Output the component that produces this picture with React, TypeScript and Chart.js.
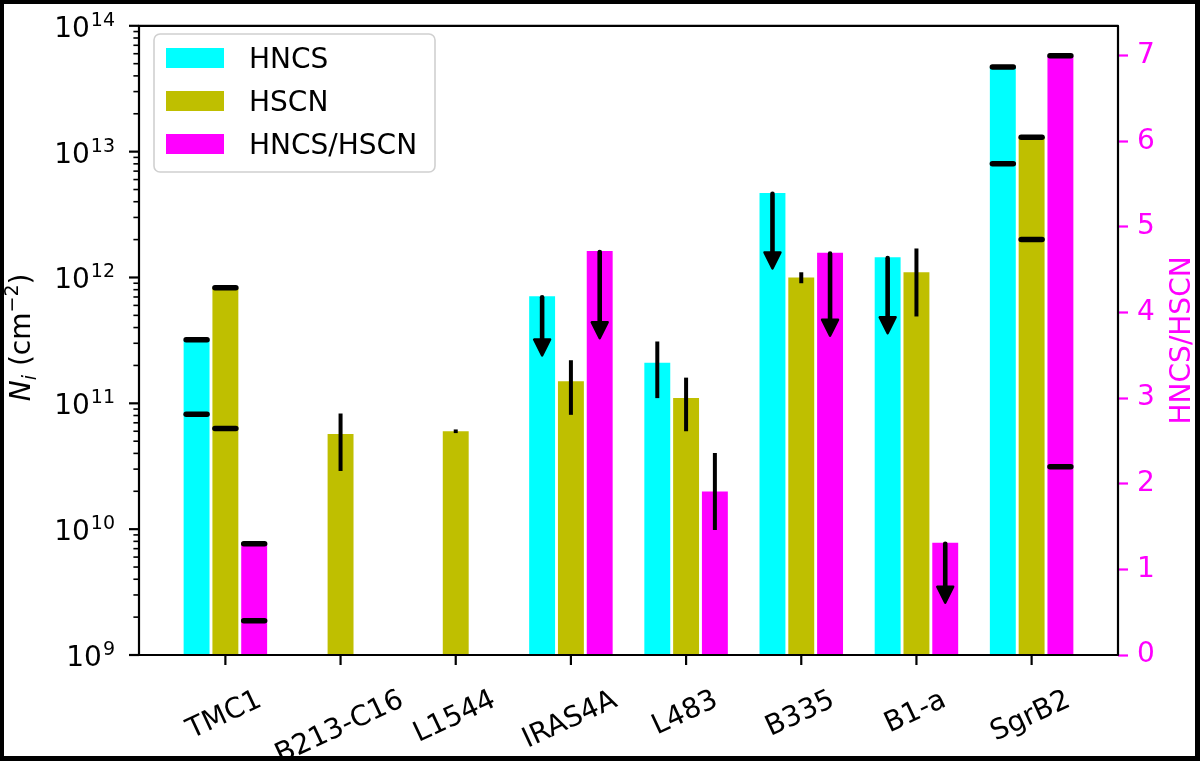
import React, { useEffect, useRef } from 'react';
import { Chart, registerables } from 'chart.js';

Chart.register(...registerables);

// ---------------- data ----------------
const categories = ['TMC1', 'B213-C16', 'L1544', 'IRAS4A', 'L483', 'B335', 'B1-a', 'SgrB2'];

const seriesNames = ['HNCS', 'HSCN', 'HNCS/HSCN'];
const seriesColors = ['#00ffff', '#bfbf00', '#ff00ff'];
const seriesOffsets = [-0.25, 0, 0.25];

// column densities (cm^-2) – left log axis
const hncs = [3.2e11, null, null, 7.1e11, 2.1e11, 4.7e12, 1.45e12, 4.7e13];
const hscn = [8.3e11, 5.7e10, 6.0e10, 1.5e11, 1.1e11, 1.0e12, 1.1e12, 1.3e13];
// ratio – right linear axis
const ratio = [1.3, null, null, 4.72, 1.91, 4.7, 1.31, 7.0];

// uncertainty markers: 'range' = two dashes, 'err' = error bar, 'upper' = upper-limit arrow (hi -> lo)
const hncsKind = ['range', '', '', 'upper', 'err', 'upper', 'upper', 'range'];
const hncsLo = [8.2e10, null, null, 2.4e11, 1.1e11, 1.18e12, 3.6e11, 8.0e12];
const hncsHi = [3.2e11, null, null, 7.1e11, 3.1e11, 4.7e12, 1.45e12, 4.7e13];

const hscnKind = ['range', 'err', 'err', 'err', 'err', 'err', 'err', 'range'];
const hscnLo = [6.3e10, 2.9e10, 5.8e10, 8.1e10, 6.0e10, 9.0e11, 4.9e11, 2.0e12];
const hscnHi = [8.3e11, 8.3e10, 6.2e10, 2.2e11, 1.6e11, 1.1e12, 1.7e12, 1.3e13];

const ratioKind = ['range', '', '', 'upper', 'err', 'upper', 'upper', 'range'];
const ratioLo = [0.4, null, null, 3.7, 1.46, 3.73, 0.61, 2.2];
const ratioHi = [1.3, null, null, 4.72, 2.36, 4.7, 1.31, 7.0];

const leftExponents = [9, 10, 11, 12, 13, 14];
const leftAxisTitle = ['N', 'i', ' (cm', '\u22122', ')'];
const rightAxisTitle = 'HNCS/HSCN';

// ---------------- drawing helpers ----------------
const FONT = '"DejaVu Sans", sans-serif';
const FS = 28;
const SUB = 19;

function pts(vals: (number | null)[], off: number) {
  const out: { x: number; y: number }[] = [];
  vals.forEach((v, i) => {
    if (v !== null) out.push({ x: i + off, y: v });
  });
  return out;
}

const overlay = {
  id: 'overlay',
  beforeDraw(chart: any) {
    const ctx = chart.ctx;
    ctx.save();
    ctx.fillStyle = '#ffffff';
    ctx.fillRect(0, 0, chart.width, chart.height);
    ctx.restore();
  },
  afterDatasetsDraw(chart: any) {
    const { ctx, chartArea: ca, scales } = chart;
    const xs = scales.x;
    const series = [
      { kind: hncsKind, lo: hncsLo, hi: hncsHi, off: seriesOffsets[0], sc: scales.y },
      { kind: hscnKind, lo: hscnLo, hi: hscnHi, off: seriesOffsets[1], sc: scales.y },
      { kind: ratioKind, lo: ratioLo, hi: ratioHi, off: seriesOffsets[2], sc: scales.y1 },
    ];
    const halfW = ((xs.getPixelForValue(0.25) - xs.getPixelForValue(0)) * 0.9) / 2;
    ctx.save();
    ctx.strokeStyle = '#000';
    ctx.fillStyle = '#000';
    series.forEach((s) => {
      s.kind.forEach((k, i) => {
        if (!k) return;
        const cx = xs.getPixelForValue(i + s.off);
        const yLo = s.sc.getPixelForValue(s.lo[i] as number);
        const yHi = s.sc.getPixelForValue(s.hi[i] as number);
        if (k === 'range') {
          ctx.lineWidth = 5.5;
          ctx.lineCap = 'round';
          [yLo, yHi].forEach((yy) => {
            ctx.beginPath();
            ctx.moveTo(cx - halfW + 2.5, yy);
            ctx.lineTo(cx + halfW - 2.5, yy);
            ctx.stroke();
          });
        } else if (k === 'err') {
          ctx.lineWidth = 4;
          ctx.lineCap = 'butt';
          ctx.beginPath();
          ctx.moveTo(cx, yHi);
          ctx.lineTo(cx, yLo);
          ctx.stroke();
        } else if (k === 'upper') {
          const headL = 16;
          const headW = 8;
          ctx.lineWidth = 4.6;
          ctx.lineCap = 'round';
          ctx.beginPath();
          ctx.moveTo(cx, yHi + 1);
          ctx.lineTo(cx, yLo - headL + 2);
          ctx.stroke();
          ctx.lineJoin = 'round';
          ctx.lineWidth = 2.4;
          ctx.beginPath();
          ctx.moveTo(cx - headW, yLo - headL);
          ctx.lineTo(cx + headW, yLo - headL);
          ctx.lineTo(cx, yLo);
          ctx.closePath();
          ctx.fill();
          ctx.stroke();
        }
      });
    });

    // frame
    ctx.lineWidth = 2.2;
    ctx.lineCap = 'butt';
    ctx.strokeStyle = '#000';
    ctx.strokeRect(ca.left, ca.top, ca.right - ca.left, ca.bottom - ca.top);
    ctx.restore();
  },
  afterDraw(chart: any) {
    const { ctx, chartArea: ca, scales } = chart;
    const xs = scales.x;
    const yl = scales.y;
    ctx.save();
    ctx.strokeStyle = '#000';
    ctx.fillStyle = '#000';

    // left log ticks (major + minor)
    leftExponents.forEach((e) => {
      const y = yl.getPixelForValue(Math.pow(10, e));
      ctx.lineWidth = 2.2;
      ctx.beginPath();
      ctx.moveTo(ca.left - 10, y);
      ctx.lineTo(ca.left, y);
      ctx.stroke();
      if (e < 14) {
        for (let m = 2; m <= 9; m++) {
          const ym = yl.getPixelForValue(m * Math.pow(10, e));
          ctx.lineWidth = 1.6;
          ctx.beginPath();
          ctx.moveTo(ca.left - 5.6, ym);
          ctx.lineTo(ca.left, ym);
          ctx.stroke();
        }
      }
      // label 10^e
      ctx.font = `${SUB}px ${FONT}`;
      const expStr = String(e);
      const expW = ctx.measureText(expStr).width;
      ctx.font = `${FS}px ${FONT}`;
      const baseW = ctx.measureText('10').width;
      const right = 115;
      const x0 = right - expW - baseW - 1;
      ctx.textAlign = 'left';
      ctx.textBaseline = 'alphabetic';
      ctx.fillText('10', x0, y + 11);
      ctx.font = `${SUB}px ${FONT}`;
      ctx.fillText(expStr, x0 + baseW + 1, y);
    });

    // x ticks + rotated labels
    const theta = (25 * Math.PI) / 180;
    categories.forEach((c, i) => {
      const px = xs.getPixelForValue(i);
      ctx.lineWidth = 2.2;
      ctx.beginPath();
      ctx.moveTo(px, ca.bottom);
      ctx.lineTo(px, ca.bottom + 10);
      ctx.stroke();
      ctx.font = `${FS}px ${FONT}`;
      const w = ctx.measureText(c).width;
      const h = FS * 1.1;
      const H = w * Math.sin(theta) + h * Math.cos(theta);
      const cy = ca.bottom + 30 + H / 2;
      ctx.save();
      ctx.translate(px - 1, cy);
      ctx.rotate(-theta);
      ctx.textAlign = 'center';
      ctx.textBaseline = 'middle';
      ctx.fillText(c, 0, 0);
      ctx.restore();
    });

    // left axis title: N_i (cm^-2)
    {
      const parts = [
        { t: leftAxisTitle[0], f: `italic ${FS}px ${FONT}`, dy: 0 },
        { t: leftAxisTitle[1], f: `italic ${SUB}px ${FONT}`, dy: 6 },
        { t: leftAxisTitle[2], f: `${FS}px ${FONT}`, dy: 0 },
        { t: leftAxisTitle[3], f: `${SUB}px ${FONT}`, dy: -12 },
        { t: leftAxisTitle[4], f: `${FS}px ${FONT}`, dy: 0 },
      ];
      let total = 0;
      const widths = parts.map((p) => {
        ctx.font = p.f;
        const w = ctx.measureText(p.t).width;
        total += w;
        return w;
      });
      ctx.save();
      ctx.translate(30, (ca.top + ca.bottom) / 2 - 3);
      ctx.rotate(-Math.PI / 2);
      ctx.textAlign = 'left';
      ctx.textBaseline = 'alphabetic';
      let x = -total / 2;
      parts.forEach((p, k) => {
        ctx.font = p.f;
        ctx.fillText(p.t, x, p.dy);
        x += widths[k];
      });
      ctx.restore();
    }

    // right axis title
    ctx.save();
    ctx.fillStyle = '#ff00ff';
    ctx.font = `${FS}px ${FONT}`;
    ctx.translate(1190, (ca.top + ca.bottom) / 2);
    ctx.rotate(-Math.PI / 2);
    ctx.textAlign = 'center';
    ctx.textBaseline = 'alphabetic';
    ctx.fillText(rightAxisTitle, 0, 0);
    ctx.restore();

    // legend
    {
      const lx = 154, ly = 34, lw = 281, lh = 138, r = 6;
      ctx.save();
      ctx.beginPath();
      ctx.moveTo(lx + r, ly);
      ctx.arcTo(lx + lw, ly, lx + lw, ly + lh, r);
      ctx.arcTo(lx + lw, ly + lh, lx, ly + lh, r);
      ctx.arcTo(lx, ly + lh, lx, ly, r);
      ctx.arcTo(lx, ly, lx + lw, ly, r);
      ctx.closePath();
      ctx.fillStyle = 'rgba(255,255,255,0.8)';
      ctx.fill();
      ctx.strokeStyle = '#d0d0d0';
      ctx.lineWidth = 1.6;
      ctx.stroke();
      seriesNames.forEach((n, k) => {
        const cy = 58 + k * 43;
        ctx.fillStyle = seriesColors[k];
        ctx.fillRect(166, cy - 10, 58, 20);
        ctx.fillStyle = '#000';
        ctx.font = `${FS}px ${FONT}`;
        ctx.textAlign = 'left';
        ctx.textBaseline = 'alphabetic';
        ctx.fillText(n, 249, cy + 10);
      });
      ctx.restore();
    }

    // outer black border of the picture
    ctx.fillStyle = '#000';
    ctx.fillRect(0, 0, chart.width, 4);
    ctx.fillRect(0, 0, 4, chart.height);
    ctx.fillRect(chart.width - 5, 0, 5, chart.height);
    ctx.fillRect(0, chart.height - 5, chart.width, 5);
    ctx.restore();
  },
};

export default function App() {
  const ref = useRef<HTMLCanvasElement | null>(null);
  useEffect(() => {
    document.body.style.margin = '0';
    const canvas = ref.current;
    if (!canvas) return;
    const datasets = [hncs, hscn, ratio].map((vals, k) => ({
      label: seriesNames[k],
      data: pts(vals, seriesOffsets[k]),
      backgroundColor: seriesColors[k],
      borderWidth: 0,
      yAxisID: k === 2 ? 'y1' : 'y',
      grouped: false,
      categoryPercentage: 1,
      barPercentage: 0.9,
    }));
    const chart = new Chart(canvas, {
      type: 'bar',
      data: { datasets } as any,
      options: {
        animation: false,
        responsive: false,
        devicePixelRatio: 1,
        events: [],
        layout: { padding: { top: 20, left: 0, right: 0, bottom: 0 } },
        plugins: {
          legend: { display: false },
          tooltip: { enabled: false },
          title: { display: false },
        },
        scales: {
          x: {
            type: 'linear',
            offset: false,
            min: -0.75,
            max: 7.75,
            ticks: { display: false, stepSize: 1 },
            grid: { display: false, offset: false },
            border: { display: false },
            afterFit: (s: any) => {
              s.height = 106;
            },
          },
          y: {
            type: 'logarithmic',
            position: 'left',
            min: 1e9,
            max: 1e14,
            ticks: { display: false },
            grid: { display: false },
            border: { display: false },
            afterFit: (s: any) => {
              s.width = 139;
            },
          },
          y1: {
            type: 'linear',
            position: 'right',
            min: 0,
            max: 7.35,
            ticks: {
              stepSize: 1,
              includeBounds: false,
              color: '#ff00ff',
              font: { family: 'DejaVu Sans', size: FS },
              padding: 9,
            },
            grid: {
              drawOnChartArea: false,
              tickLength: 10,
              tickColor: '#ff00ff',
              tickWidth: 2.2,
              color: '#ff00ff',
            },
            border: { display: false },
            afterFit: (s: any) => {
              s.width = 82;
            },
          },
        },
      } as any,
      plugins: [overlay],
    });
    return () => chart.destroy();
  }, []);
  return (
    <div style={{ width: 1200, height: 761 }}>
      <canvas ref={ref} width={1200} height={761} style={{ display: 'block' }} />
    </div>
  );
}
